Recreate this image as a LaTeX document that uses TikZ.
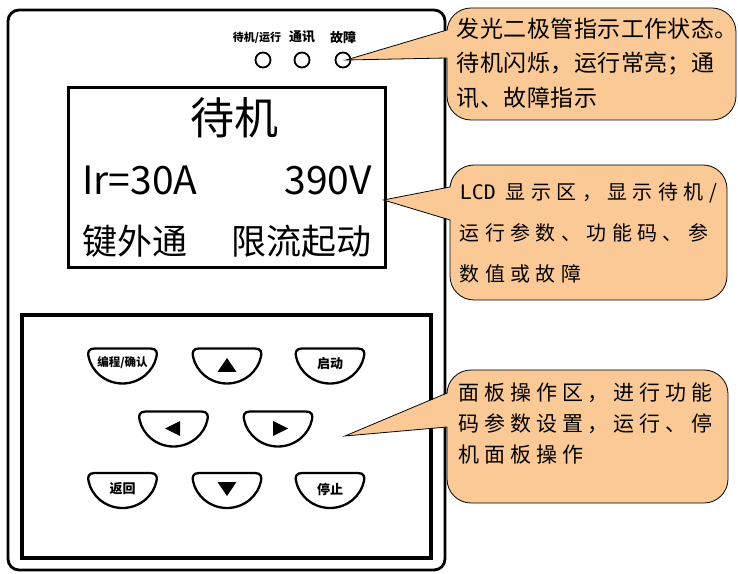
\documentclass[tikz,border=0pt]{standalone}
\usepackage{fontspec}
\setmainfont{Noto Sans CJK SC}
\newfontfamily\lcdmono{DejaVu Sans Mono}
\newfontfamily\noteT[LetterSpace=2]{Noto Sans CJK SC}
\newfontfamily\noteA[LetterSpace=27]{Noto Sans CJK SC}
\newfontfamily\noteB[LetterSpace=23]{Noto Sans CJK SC}
\usetikzlibrary{positioning}
\definecolor{notefill}{RGB}{251,201,150}

\begin{document}
\begin{tikzpicture}[x=1pt, y=1pt,
  frame/.style={draw, line width=2.8pt, inner sep=0pt},
  led/.style={circle, draw, line width=1.8pt, minimum size=15pt, inner sep=0pt},
  ledtxt/.style={font=\bfseries\fontsize{13}{13}\selectfont, inner sep=0pt},
  lcdtxt/.style={inner sep=0pt},
  keytxt/.style={font=\bfseries\fontsize{13}{13}\selectfont, inner sep=0pt},
  note/.style={draw, line width=0.8pt, fill=notefill, rounded corners=24pt},
  notetxt/.style={align=left, inner sep=0pt},
  keybtn/.pic={\draw[line width=2.3pt] (-28,17) -- (28,17) .. controls (34,17) and (35,13) .. (34,9)
      .. controls (31,-6) and (17,-18) .. (0,-18) .. controls (-17,-18) and (-31,-6) .. (-34,9)
      .. controls (-35,13) and (-34,17) .. (-28,17) -- cycle;}
]
\useasboundingbox (0,0) rectangle (738,573);

% housing, display, keypad
\node[frame, rounded corners=11pt, minimum width=437pt, minimum height=560pt] (panel) at (226.5,283) {};
\node[frame, line width=3pt, minimum width=317pt, minimum height=180pt] (lcd) at (226.5,395) {};
\node[frame, line width=3.2pt, minimum width=409pt, minimum height=243pt] (pad) at (226.5,136.5) {};

% indicator lamps
\node[led] (l1) at (263,513) {};
\node[led] (l2) at (302,513) {};
\node[led] (l3) at (343,513) {};
\node[ledtxt, font=\bfseries\fontsize{11}{11}\selectfont, above=8pt of l1, xshift=-6pt] (l1t) {待机/运行};
\node[ledtxt, above=8pt of l2] (l2t) {通讯};
\node[ledtxt, above=8pt of l3] (l3t) {故障};

% display contents
\node[lcdtxt, font=\fontsize{44}{44}\selectfont] (stat) at (234,455) {待机};
\node[lcdtxt, font=\fontsize{39}{39}\selectfont, anchor=west] (cur) at (82,393) {Ir=30A};
\node[lcdtxt, font=\fontsize{39}{39}\selectfont, anchor=east] (volt) at (372,393) {390V};
\node[lcdtxt, font=\fontsize{35}{35}\selectfont, anchor=west] (mode) at (82,332) {键外通};
\node[lcdtxt, font=\fontsize{35}{35}\selectfont, anchor=east] (start) at (372,332) {限流起动};

% keys
\pic at (122.5,207.5) {keybtn};
\pic at (227,207.5) {keybtn};
\pic at (330,207.5) {keybtn};
\pic at (173.5,144.5) {keybtn};
\pic at (278,144.5) {keybtn};
\pic at (122.5,83) {keybtn};
\pic at (227,83) {keybtn};
\pic at (330,83) {keybtn};
\node[keytxt, font=\bfseries\fontsize{11.5}{11.5}\selectfont] (kprog) at (122.5,210) {编程/确认};
\node[keytxt] (krun) at (330,209) {启动};
\node[keytxt] (kback) at (122.5,84) {返回};
\node[keytxt] (kstop) at (330,84) {停止};
\fill (217.5,201) -- (236.5,201) -- (227,215) -- cycle;
\fill (217.5,91) -- (236.5,91) -- (227,77) -- cycle;
\fill (180,137) -- (180,152) -- (165,144.5) -- cycle;
\fill (273,137) -- (273,152) -- (288,144.5) -- cycle;

% callouts
\node[note, minimum width=289pt, minimum height=112pt] (n1) at (591.5,509) {};
\coordinate (n1a) at (447,543); \coordinate (n1b) at (447,515);
\fill[notefill] ([xshift=1.5pt]n1a) -- ([xshift=3pt]l3.center) -- ([xshift=1.5pt]n1b) -- cycle;
\draw[line width=0.8pt] (n1a) -- ([xshift=3pt]l3.center) -- (n1b);
\node[notetxt, font=\noteT\fontsize{23}{34.5}\selectfont, below right=10pt and 10pt of n1.north west] (t1)
  {发光二极管指示工作状态。\\待机闪烁，运行常亮；通\\讯、故障指示};

\node[note, minimum width=277pt, minimum height=135pt] (n2) at (588.5,340.5) {};
\coordinate (n2a) at (450,386); \coordinate (n2b) at (450,353);
\fill[notefill] ([xshift=1.5pt]n2a) -- ([xshift=-3pt, yshift=-22pt]lcd.east) -- ([xshift=1.5pt]n2b) -- cycle;
\draw[line width=0.8pt] (n2a) -- ([xshift=-3pt, yshift=-22pt]lcd.east) -- (n2b);
\node[notetxt, font=\noteA\fontsize{20}{41}\selectfont, below right=18pt and 10pt of n2.north west] (t2)
  {{\lcdmono LCD} 显示区，显示待机/\\运行参数、功能码、参\\数值或故障};

\node[note, minimum width=281pt, minimum height=133pt] (n3) at (587.5,136.5) {};
\coordinate (n3a) at (447,180); \coordinate (n3b) at (447,146);
\coordinate (kt) at (345,137);
\fill[notefill] ([xshift=1.5pt]n3a) -- (kt) -- ([xshift=1.5pt]n3b) -- cycle;
\draw[line width=0.8pt] (n3a) -- (kt) -- (n3b);
\node[notetxt, font=\noteB\fontsize{21}{31}\selectfont, below right=13pt and 12pt of n3.north west] (t3)
  {面板操作区，进行功能\\码参数设置，运行、停\\机面板操作};
\end{tikzpicture}
\end{document}
